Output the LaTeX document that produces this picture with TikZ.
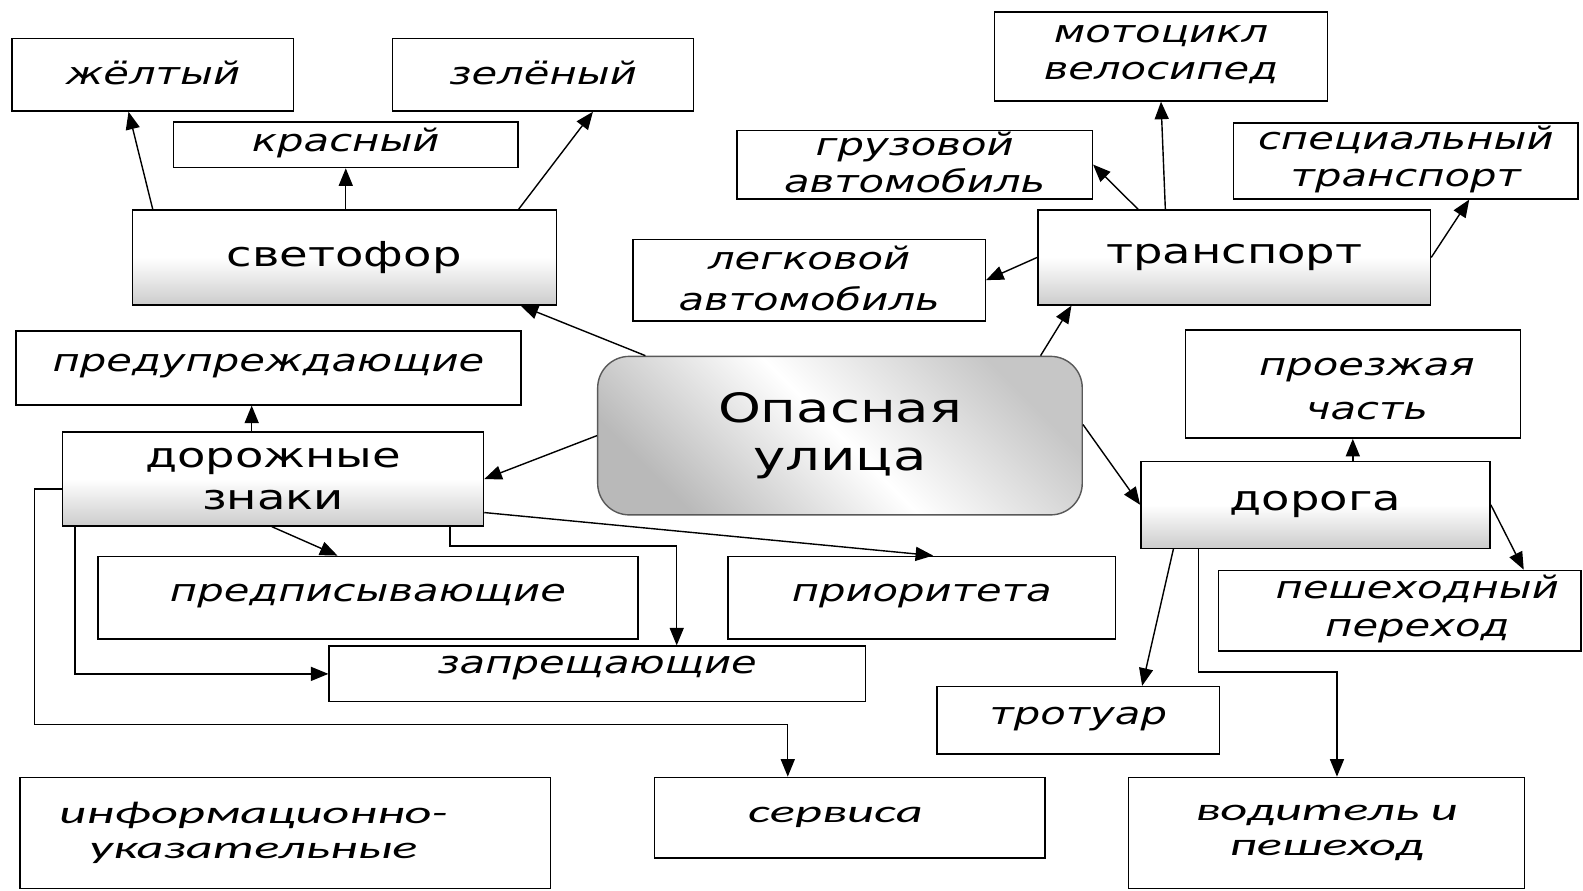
\documentclass[tikz,border=0pt]{standalone}
\usepackage{fontspec}
\setmainfont{DejaVu Sans}[FakeStretch=1.35]
\newfontfamily\carlito{Carlito}[FakeStretch=1.66]
\usetikzlibrary{arrows.meta,calc,fit}
\tikzset{
  box/.style={draw, thin, inner sep=0pt},
  hub/.style={draw, thin, inner sep=0pt, top color=white, bottom color=gray!40, middle color=white},
  centre/.style={draw=gray!70!black, thin, rounded corners=9pt, inner sep=0pt, left color=gray!55, right color=gray!45, middle color=white, shading angle=135},
  it text/.style={align=center, inner sep=0pt, yshift=0.5pt, font=\fontsize{8.8}{10.6}\selectfont\itshape},
  hub text/.style={align=center, inner sep=0pt, font=\fontsize{9.8}{12}\selectfont},
  big text/.style={align=center, inner sep=0pt, font=\fontsize{11.5}{13.5}\selectfont},
  low text/.style={align=center, inner sep=0pt, font=\fontsize{9}{10.2}\selectfont\carlito\itshape},
  txt/.style={label={[it text]center:#1}},
  arr/.style={-{Triangle[length=5pt,width=4pt]}, thin},
}

\begin{document}
\begin{tikzpicture}[x=0.0101cm, y=-0.0101cm]
  \fill[white] (0,0) rectangle (1568,882);
  \useasboundingbox (0,0) rectangle (1568,882);

  % Centre
  \node[centre, fit={(592,353) (1072,510)}, label={[big text]center:Опасная\\улица}] (street) {};

  % Traffic light
  \node[hub, fit={(131,208) (551,302)}, label={[hub text]center:светофор}] (svet) {};
  \node[box, fit={(12,38) (291,110)}, txt=жёлтый] (zhelt) {};
  \node[box, fit={(389,38) (687,110)}, txt=зелёный] (zel) {};
  \node[box, fit={(172,121) (513,166)}, txt=красный] (kras) {};

  % Transport
  \node[hub, fit={(1028,208) (1417,302)}, label={[hub text]center:транспорт}] (trans) {};
  \node[box, fit={(985,12) (1315,100)}, txt={мотоцикл\\велосипед}] (moto) {};
  \node[box, fit={(730,129) (1082,197)}, txt={грузовой\\автомобиль}] (gruz) {};
  \node[box, fit={(1222,122) (1563,197)}, txt={специальный\\транспорт}] (spec) {};
  \node[box, fit={(627,237) (976,318)}, txt={легковой\\[1pt]автомобиль}] (leg) {};

  % Road signs
  \node[hub, fit={(62,428) (479,521)}, label={[hub text]center:дорожные\\знаки}] (znaki) {};
  \node[box, fit={(16,328) (516,401)}, txt=предупреждающие] (pred) {};
  \node[box, fit={(97,551) (632,633)}, txt=предписывающие] (predpis) {};
  \node[box, fit={(721,551) (1105,633)}, txt=приоритета] (prior) {};
  \node[box, fit={(326,640) (857,695)}, label={[it text, yshift=1.2pt]center:запрещающие}] (zapr) {};
  \node[box, fit={(20,770) (545,880)}, label={[low text, xshift=-9pt]center:информационно-\\указательные}] (info) {};
  \node[box, fit={(648,770) (1035,850)}, label={[low text, xshift=-4pt]center:сервиса}] (serv) {};

  % Road
  \node[hub, fit={(1130,457) (1476,543)}, label={[hub text]center:дорога}] (doroga) {};
  \node[box, fit={(1174,327) (1506,434)}, label={[it text, yshift=-2pt, xshift=4pt]center:проезжая\\[2pt]часть}] (proezh) {};
  \node[box, fit={(1207,565) (1566,645)}, label={[it text, xshift=5pt]center:пешеходный\\переход}] (pesh) {};
  \node[box, fit={(928,680) (1208,747)}, txt=тротуар] (trot) {};
  \node[box, fit={(1118,770) (1510,880)}, label={[low text]center:водитель и\\пешеход}] (vod) {};

  % Connectors from the centre
  \draw[arr] ($(street.north west)+(48,0)$) -- ($(svet.south east)+(-36,0)$);
  \draw[arr] ($(street.north east)+(-42,0)$) -- ($(trans.south west)+(34,0)$);
  \draw[arr] (street.west) -- (znaki.east);
  \draw[arr] ($(street.east)+(0,-11)$) -- (doroga.west);

  % Traffic light
  \draw[arr] ($(svet.north west)+(21,0)$) -- ($(zhelt.south west)+(116,0)$);
  \draw[arr] (kras.south |- svet.north) -- (kras.south);
  \draw[arr] ($(svet.north east)+(-38,0)$) -- ($(zel.south west)+(199,0)$);

  % Transport
  \draw[arr] ($(trans.north west)+(100,0)$) -- (gruz.east);
  \draw[arr] ($(trans.north west)+(127,0)$) -- (moto.south);
  \draw[arr] (trans.west) -- (leg.east);
  \draw[arr] (trans.east) -- ($(spec.south west)+(234,0)$);

  % Road signs
  \draw[arr] ($(znaki.north west)+(188,0)$) coordinate (z1) -- (z1 |- pred.south);
  \draw[arr] ($(znaki.south west)+(208,0)$) -- ($(predpis.north west)+(238,0)$);
  \draw[arr] ($(znaki.south east)+(0,-14)$) -- ($(prior.north west)+(204,0)$);
  \draw[arr] ($(znaki.south east)+(-34,0)$) -- ++(0,19) -| ($(zapr.north west)+(345,0)$);
  \draw[arr] ($(znaki.south west)+(13,0)$) |- (zapr.west);
  \draw[arr] ($(znaki.west)+(0,10)$) -- ++(-27,0) -- ++(0,233) -| ($(serv.north west)+(133,0)$);

  % Road
  \draw[arr] (proezh.south |- doroga.north) -- (proezh.south);
  \draw[arr] (doroga.east) -- ($(pesh.north west)+(303,0)$);
  \draw[arr] ($(doroga.south west)+(33,0)$) -- ($(trot.north west)+(204,0)$);
  \draw[arr] ($(doroga.south west)+(58,0)$) -- ++(0,122) -| ($(vod.north west)+(207,0)$);
\end{tikzpicture}
\end{document}
